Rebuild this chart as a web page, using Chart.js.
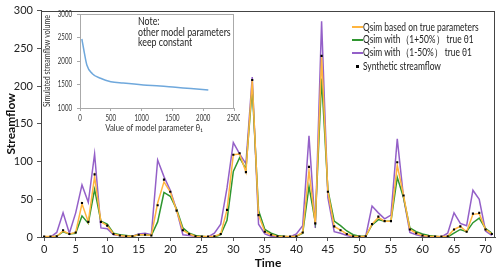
<!DOCTYPE html>
<html><head><meta charset="utf-8">
<script src="https://cdn.jsdelivr.net/npm/chart.js@4/dist/chart.umd.min.js"></script>
<style>
html,body{margin:0;padding:0;background:#fff;}
#wrap{position:relative;width:500px;height:271px;font-family:Lato,"Open Sans",sans-serif;overflow:hidden;}
#main{position:absolute;left:0;top:0;}
#inset{position:absolute;left:40px;top:8px;}
#note{position:absolute;left:138px;top:16px;font-size:10.5px;line-height:10.5px;color:#222;transform:scaleX(0.84);transform-origin:0 0;white-space:nowrap;}
#legend{position:absolute;left:352px;top:21px;font-size:10.5px;color:#222;}
.li{height:12.9px;display:flex;align-items:center;white-space:nowrap;}
.sw{width:11px;height:0;border-top:2px solid;flex:none;}
.dot{width:11px;display:flex;justify-content:center;flex:none;}
.dot span{width:3px;height:3px;background:#000;display:block;}
.tx{display:inline-block;transform:scaleX(0.8);transform-origin:0 50%;}
</style></head>
<body><div id="wrap">
<canvas id="main" width="500" height="271"></canvas>
<canvas id="inset" width="200" height="130"></canvas>
<div id="note">Note:<br>other model parameters<br>keep constant</div>
<div id="legend"></div>
</div>
<script>
const timeSteps = Array.from({length:72},(_,i)=>i);
const xTicks = [0,5,10,15,20,25,30,35,40,45,50,55,60,65,70];
const yTicks = [0,50,100,150,200,250,300];
const seriesNames = ["Qsim based on true parameters","Qsim with（1+50%） true θ1","Qsim with（1-50%） true θ1","Synthetic streamflow"];
const qsimTrue = [0.5,0.5,1,8,4,6,44,20,80,20,15,4,2,1,1,3,3,2,45,73,60,35,9,4,1,0.5,0.5,1,4,36,109,110,86,207,29,7,3,1,0.5,0.5,1,6,88,18,238,60,14,9,4,1,0.5,1,17,26,21,21,95,55,10,5,2,1,0.5,0.5,1,10,14,7,30,31,10,4];
const qsimPlus = [0,0,1,7,4,5,28,18,63,21,17,5,3,2,1,3,3,2,20,59,54,37,12,5,2,1,0,0,3,22,87,105,90,198,35,10,5,2,1,0,1,5,67,20,210,62,21,15,8,3,1,1,16,23,21,21,79,52,12,7,4,2,1,0,0,5,10,7,19,25,11,5];
const qsimMinus = [0,0,6,32,5,32,69,46,110,12,11,3,2,1,1,4,5,3,102,80,62,36,3,2,1,0,0,5,17,65,125,110,97,212,17,4,1,1,0,0,4,15,134,12,286,52,7,5,2,0,0,1,41,32,24,29,130,52,6,3,1,0,0,0,5,32,18,15,62,50,8,2];
const synthetic = [0.5,0.5,1,9,4,6,45,20,83,20,15,4,2,1,1,3,3,2,42,76,60,35,9,4,1,0.5,0.5,1,4,36,109,111,86,208,29,7,3,1,0.5,0.5,1,6,93,18,240,60,14,9,4,1,0.5,1,17,27,21,21,99,55,10,5,2,1,0.5,0.5,1,10,14,7,31,32,10,4];
const colors = ["#FFB53F","#2F962F","#9460C8","#000000"];

const insetX = [30,60,111,200,333,500,700,1028,1300,1550,1800,2083];
const insetY = [2468,2250,1915,1730,1632,1560,1530,1490,1468,1440,1415,1383];
const insetXTicks = [0,500,1000,1500,2000,2500];
const insetYTicks = [1000,1500,2000,2500,3000];
const insetXTitle = "Value of model parameter θ₁";
const insetYTitle = "Simulated streamflow volume";

const pts = (arr)=>arr.map((v,i)=>({x:timeSteps[i],y:v}));
const boxPlugin = (color)=>({id:'box',afterDraw(c){const a=c.chartArea,ctx=c.ctx;ctx.save();ctx.strokeStyle=color;ctx.lineWidth=1;ctx.strokeRect(Math.round(a.left)+0.5,Math.round(a.top)+0.5,Math.round(a.right-a.left)-1,Math.round(a.bottom-a.top));ctx.restore();}});
const FONT = "Lato, 'Open Sans', sans-serif";

function txt(ctx,s,x,y,align,sx,rot,font,color){
  ctx.save();ctx.translate(x,y);if(rot)ctx.rotate(rot);ctx.scale(sx,1);
  ctx.font=font;ctx.fillStyle=color;ctx.textAlign=align;ctx.textBaseline='middle';
  ctx.fillText(s,0,0);ctx.restore();
}

new Chart(document.getElementById('main'),{
  type:'line',
  data:{datasets:[
    {label:seriesNames[0],data:pts(qsimTrue),borderColor:colors[0],borderWidth:1.5,pointRadius:0,order:1},
    {label:seriesNames[1],data:pts(qsimPlus),borderColor:colors[1],borderWidth:1.5,pointRadius:0,order:2},
    {label:seriesNames[2],data:pts(qsimMinus),borderColor:colors[2],borderWidth:1.5,pointRadius:0,order:3},
    {label:seriesNames[3],data:pts(synthetic),showLine:false,pointStyle:'rect',pointRadius:1.5,pointBackgroundColor:colors[3],pointBorderWidth:0,borderColor:colors[3],order:0}
  ]},
  options:{responsive:false,maintainAspectRatio:false,animation:false,
    layout:{padding:{top:7,right:5,left:0,bottom:0}},
    plugins:{legend:{display:false},tooltip:{enabled:false}},
    scales:{
      x:{type:'linear',min:-0.5,max:71.5,
        afterBuildTicks(s){s.ticks=xTicks.map(v=>({value:v}));},
        afterFit(s){s.height=34;},
        grid:{drawOnChartArea:false,tickLength:4,color:'#555'},border:{color:'#444'},
        ticks:{padding:2,color:'#222',font:{family:FONT,size:11},maxRotation:0,autoSkip:false},
        title:{display:true,text:'Time',color:'#111',font:{family:FONT,size:12,weight:'bold'},padding:{top:0,bottom:1}}},
      y:{min:0,max:300,
        afterBuildTicks(s){s.ticks=yTicks.map(v=>({value:v}));},
        afterFit(s){s.width=41;},
        grid:{drawOnChartArea:false,tickLength:4,color:'#555'},border:{color:'#444'},
        ticks:{padding:4,color:'#222',font:{family:FONT,size:11}},
        title:{display:true,text:'Streamflow',color:'#111',font:{family:FONT,size:12,weight:'bold'},padding:{top:4,bottom:0}}}
    }},
  plugins:[boxPlugin('#444')]
});

const insetLabels = {id:'insetLabels',afterDraw(c){
  const ctx=c.ctx,a=c.chartArea,sx=c.scales.x,sy=c.scales.y;
  const f9="8.5px "+FONT;
  insetXTicks.forEach(v=>txt(ctx,String(v),sx.getPixelForValue(v),a.bottom+10,'center',0.72,0,f9,'#333'));
  insetYTicks.forEach(v=>txt(ctx,String(v),a.left-8,sy.getPixelForValue(v),'right',0.72,0,f9,'#333'));
  txt(ctx,insetXTitle,(a.left+a.right)/2-3,a.bottom+20,'center',0.78,0,"10px "+FONT,'#333');
  ctx.save();ctx.font="9.5px "+FONT;const w=ctx.measureText(insetYTitle).width;ctx.restore();
  txt(ctx,insetYTitle,7,(a.top+a.bottom)/2,'center',Math.min(1,(a.bottom-a.top-2)/w),-Math.PI/2,"9.5px "+FONT,'#333');
}};

new Chart(document.getElementById('inset'),{
  type:'line',
  data:{datasets:[{data:insetX.map((x,i)=>({x,y:insetY[i]})),borderColor:'#6FA8DC',borderWidth:1.5,pointRadius:0,cubicInterpolationMode:'monotone'}]},
  options:{responsive:false,maintainAspectRatio:false,animation:false,
    layout:{padding:{top:6,right:6,left:0,bottom:0}},
    plugins:{legend:{display:false},tooltip:{enabled:false}},
    scales:{
      x:{type:'linear',min:0,max:2500,
        afterBuildTicks(s){s.ticks=insetXTicks.map(v=>({value:v}));},
        afterFit(s){s.height=30;},
        grid:{drawOnChartArea:false,tickLength:3,color:'#aaa'},border:{color:'#aaa'},
        ticks:{display:false}},
      y:{min:1000,max:3000,
        afterBuildTicks(s){s.ticks=insetYTicks.map(v=>({value:v}));},
        afterFit(s){s.width=40;},
        grid:{drawOnChartArea:false,tickLength:3,color:'#aaa'},border:{color:'#aaa'},
        ticks:{display:false}}
    }},
  plugins:[boxPlugin('#aaa'),insetLabels]
});

const lg=document.getElementById('legend');
seriesNames.forEach((n,i)=>{
  const d=document.createElement('div');d.className='li';
  d.innerHTML=(i<3?`<div class="sw" style="border-color:${colors[i]}"></div>`:`<div class="dot"><span></span></div>`)+`<span class="tx">${n}</span>`;
  lg.appendChild(d);
});
</script>
</body></html>
